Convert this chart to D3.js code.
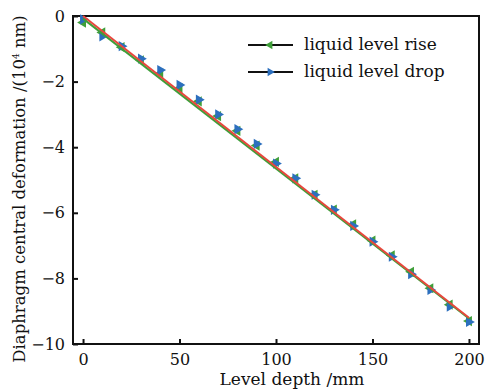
<!DOCTYPE html>
<html>
<head>
<meta charset="utf-8">
<script src="https://cdn.jsdelivr.net/npm/d3@7"></script>
<style>
  body { margin: 0; background: #fff; }
  text { font-family: "DejaVu Serif", serif; fill: #111; }
</style>
</head>
<body>
<div id="chart"></div>
<script>
const depth = [0, 10, 20, 30, 40, 50, 60, 70, 80, 90, 100, 110, 120, 130, 140, 150, 160, 170, 180, 190, 200];
const riseValues = [-0.2, -0.5, -0.95, -1.35, -1.75, -2.2, -2.6, -3.05, -3.5, -3.95, -4.45, -4.95, -5.45, -5.9, -6.35, -6.85, -7.3, -7.8, -8.3, -8.8, -9.3];
const dropValues = [-0.1, -0.62, -0.92, -1.3, -1.65, -2.1, -2.55, -3.0, -3.45, -3.9, -4.5, -4.95, -5.45, -5.91, -6.4, -6.88, -7.34, -7.87, -8.35, -8.86, -9.33];
const riseFit = [[0, -0.08], [200, -9.22]];
const dropFit = [[0, 0], [200, -9.2]];
const xTicks = [0, 50, 100, 150, 200];
const yTicks = [0, -2, -4, -6, -8, -10];

const width = 487, height = 391;
const mLeft = 73, mRight = 479, mTop = 16, mBottom = 344;

const svg = d3.select('#chart').append('svg')
  .attr('width', width)
  .attr('height', height);

const x = d3.scaleLinear().domain([-5.2, 205.2]).range([mLeft, mRight]);
const y = d3.scaleLinear().domain([-10, 0]).range([mBottom, mTop]);

const green = '#3f9f3a';
const blue = '#2c6fbe';
const red = '#e8473d';

// frame
svg.append('rect')
  .attr('x', mLeft).attr('y', mTop)
  .attr('width', mRight - mLeft).attr('height', mBottom - mTop)
  .attr('fill', 'none').attr('stroke', '#111').attr('stroke-width', 2);

const fmt = d => d < 0 ? '\u2212' + Math.abs(d) : String(d);

const xAxis = svg.append('g')
  .attr('transform', 'translate(0,' + mBottom + ')')
  .call(d3.axisBottom(x).tickValues(xTicks).tickSizeInner(-5).tickSizeOuter(0).tickPadding(10).tickFormat(fmt));
const yAxis = svg.append('g')
  .attr('transform', 'translate(' + mLeft + ',0)')
  .call(d3.axisLeft(y).tickValues(yTicks).tickSizeInner(-5).tickSizeOuter(0).tickPadding(8).tickFormat(fmt));

[xAxis, yAxis].forEach(a => {
  a.select('.domain').remove();
  a.selectAll('.tick line').attr('stroke', '#111').attr('stroke-width', 2);
  a.selectAll('.tick text').style('font-size', '16px').attr('fill', '#111');
});

const line = d3.line().x(d => x(d[0])).y(d => y(d[1]));

const tri = d3.symbol().type(d3.symbolTriangle).size(45);

// rise markers (left-pointing, green)
svg.append('g').selectAll('path')
  .data(depth.map((d, i) => [d, riseValues[i]]))
  .enter().append('path')
  .attr('d', tri)
  .attr('transform', d => 'translate(' + x(d[0]) + ',' + y(d[1]) + ') rotate(-90)')
  .attr('fill', green);

// drop markers (right-pointing, blue)
svg.append('g').selectAll('path')
  .data(depth.map((d, i) => [d, dropValues[i]]))
  .enter().append('path')
  .attr('d', tri)
  .attr('transform', d => 'translate(' + x(d[0]) + ',' + y(d[1]) + ') rotate(90)')
  .attr('fill', blue);

svg.append('path').datum(riseFit)
  .attr('d', line).attr('fill', 'none').attr('stroke', green).attr('stroke-width', 2);
svg.append('path').datum(dropFit)
  .attr('d', line).attr('fill', 'none').attr('stroke', red).attr('stroke-width', 2);

// legend
const legendItems = [
  { label: 'liquid level rise', color: green, rot: -90 },
  { label: 'liquid level drop', color: blue, rot: 90 }
];
const lg = svg.selectAll('.lg').data(legendItems).enter().append('g')
  .attr('transform', (d, i) => 'translate(248,' + (45 + i * 27) + ')');
lg.append('line').attr('x1', 0).attr('x2', 45).attr('y1', 0).attr('y2', 0)
  .attr('stroke', '#111').attr('stroke-width', 2);
lg.append('path').attr('d', d3.symbol().type(d3.symbolTriangle).size(30))
  .attr('transform', d => 'translate(22,0) rotate(' + d.rot + ')')
  .attr('fill', d => d.color);
lg.append('text').attr('x', 56).attr('y', 5).style('font-size', '17px').text(d => d.label);

// axis titles
svg.append('text')
  .attr('x', (mLeft + mRight) / 2 + 16).attr('y', 385)
  .attr('text-anchor', 'middle').style('font-size', '17px')
  .text('Level depth /mm');

const yt = svg.append('text')
  .attr('transform', 'translate(25,' + ((mTop + mBottom) / 2 + 9) + ') rotate(-90)')
  .attr('text-anchor', 'middle').style('font-size', '16.5px');
yt.append('tspan').text('Diaphragm central deformation /(10');
yt.append('tspan').attr('dy', -6).style('font-size', '9px').text('4');
yt.append('tspan').attr('dy', 6).text(' nm)');
</script>
</body>
</html>
